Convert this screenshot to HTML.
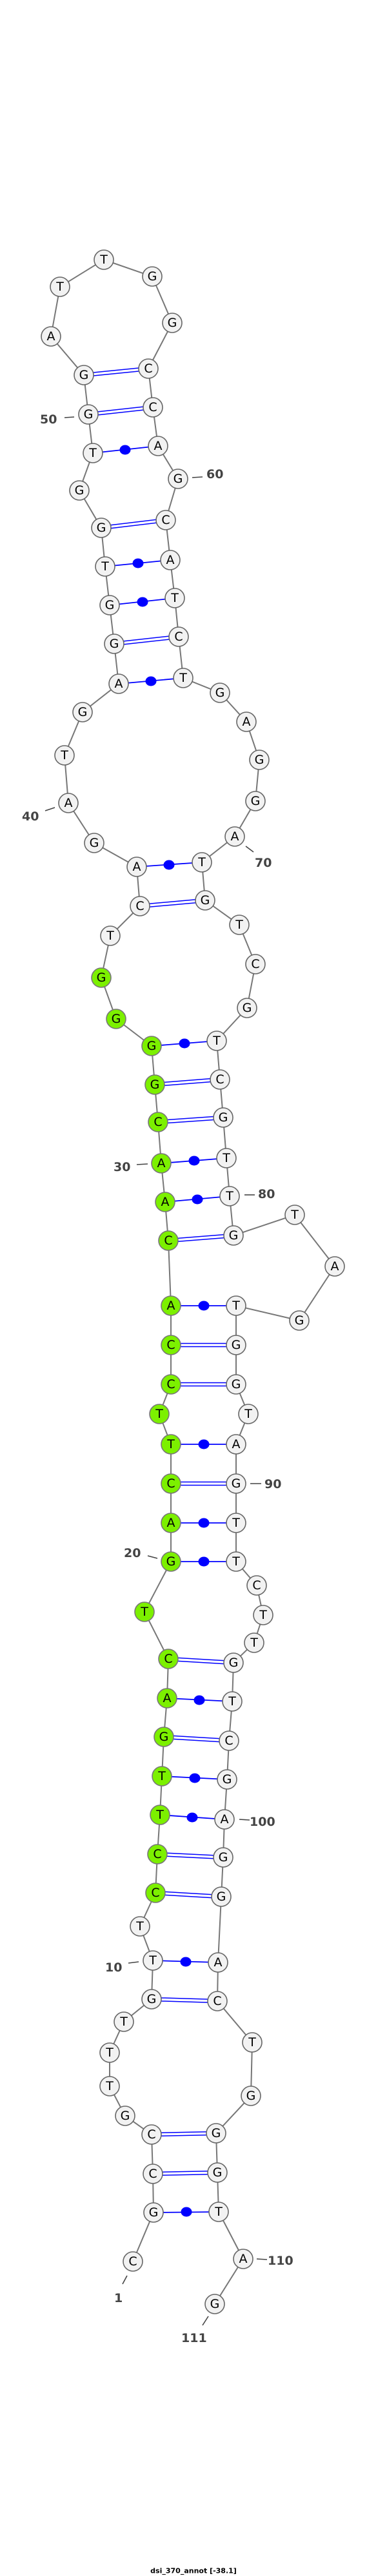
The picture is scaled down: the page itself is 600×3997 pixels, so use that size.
<!DOCTYPE html>
<html><head><meta charset="utf-8"><style>
html,body{margin:0;padding:0;background:#fff;}
svg{display:block;}
.n{fill:#f2f2f2;stroke:#666;stroke-width:1.6;}
.g{fill:#7cf000;stroke:#777;stroke-width:1.6;}
.t{font-family:"DejaVu Sans","Liberation Sans",sans-serif;font-size:19px;fill:#000;text-anchor:middle;dominant-baseline:central;}
.l{font-family:"DejaVu Sans","Liberation Sans",sans-serif;font-size:19px;font-weight:bold;fill:#444;}
.tk{stroke:#444;stroke-width:1.6;}
.d{stroke:#00f;stroke-width:1.5;}
.s{stroke:#00f;stroke-width:1.8;}
</style></head><body>
<svg width="600" height="3997" viewBox="0 0 600 3997" xmlns="http://www.w3.org/2000/svg">
<polyline fill="none" stroke="#777" stroke-width="2" points="206,3509 238,3433 237,3373 235,3312 194,3283 170,3237 170,3185 192,3137 235,3102 237,3042 217,2989 241,2937 244,2877 248,2816 251,2756 254,2695 259,2635 261,2574 224,2501 265,2423 265,2363 265,2302 265,2241 247,2194 265,2148 265,2087 265,2026 261,1925 256,1865 250,1805 245,1741 240,1683 235,1623 180,1581 157,1517 171,1452 217,1406 212,1345 146,1308 106,1246 100,1172 128,1105 184,1061 177,999 170,939 163,879 157,819 123,761 144,703 137,643 130,582 79,522 93,445 161,403 236,429 267,501 230,572 237,632 245,692 276,743 257,807 264,869 271,928 277,988 284,1052 341,1075 382,1120 402,1179 396,1243 364,1298 313,1338 318,1397 371,1435 396,1496 383,1564 336,1615 341,1675 346,1734 351,1797 356,1856 362,1917 457,1885 519,1965 464,2049 366,2026 366,2087 366,2148 385,2194 366,2241 366,2302 366,2363 366,2423 398,2460 408,2506 394,2549 362,2580 360,2640 355,2701 352,2761 348,2823 346,2882 343,2943 338,3045 337,3105 391,3169 389,3252 335,3310 337,3371 339,3432 377,3505 333,3575"/>
<!-- double pairs -->
<g class="d">
<line x1="130" y1="579.5" x2="230" y2="569.5"/><line x1="130" y1="584.5" x2="230" y2="574.5"/>
<line x1="137" y1="640.5" x2="237" y2="629.5"/><line x1="137" y1="645.5" x2="237" y2="634.5"/>
<line x1="157" y1="816.5" x2="257" y2="804.5"/><line x1="157" y1="821.5" x2="257" y2="809.5"/>
<line x1="177" y1="996.5" x2="277" y2="985.5"/><line x1="177" y1="1001.5" x2="277" y2="990.5"/>
<line x1="217" y1="1403.5" x2="318" y2="1394.5"/><line x1="217" y1="1408.5" x2="318" y2="1399.5"/>
<line x1="240" y1="1680.5" x2="341" y2="1672.5"/><line x1="240" y1="1685.5" x2="341" y2="1677.5"/>
<line x1="245" y1="1738.5" x2="346" y2="1731.5"/><line x1="245" y1="1743.5" x2="346" y2="1736.5"/>
<line x1="261" y1="1922.5" x2="362" y2="1914.5"/><line x1="261" y1="1927.5" x2="362" y2="1919.5"/>
<line x1="265" y1="2084.5" x2="366" y2="2084.5"/><line x1="265" y1="2089.5" x2="366" y2="2089.5"/>
<line x1="265" y1="2145.5" x2="366" y2="2145.5"/><line x1="265" y1="2150.5" x2="366" y2="2150.5"/>
<line x1="265" y1="2299.5" x2="366" y2="2299.5"/><line x1="265" y1="2304.5" x2="366" y2="2304.5"/>
<line x1="261" y1="2571.5" x2="362" y2="2577.5"/><line x1="261" y1="2576.5" x2="362" y2="2582.5"/>
<line x1="254" y1="2692.5" x2="355" y2="2698.5"/><line x1="254" y1="2697.5" x2="355" y2="2703.5"/>
<line x1="244" y1="2874.5" x2="346" y2="2879.5"/><line x1="244" y1="2879.5" x2="346" y2="2884.5"/>
<line x1="241" y1="2934.5" x2="343" y2="2940.5"/><line x1="241" y1="2939.5" x2="343" y2="2945.5"/>
<line x1="235" y1="3099.5" x2="337" y2="3102.5"/><line x1="235" y1="3104.5" x2="337" y2="3107.5"/>
<line x1="235" y1="3309.5" x2="335" y2="3307.5"/><line x1="235" y1="3314.5" x2="335" y2="3312.5"/>
<line x1="237" y1="3370.5" x2="337" y2="3368.5"/><line x1="237" y1="3375.5" x2="337" y2="3373.5"/>
</g>
<!-- single pairs with dots -->
<g class="s">
<line x1="144" y1="703" x2="245" y2="692"/><line x1="163" y1="879" x2="264" y2="869"/>
<line x1="170" y1="939" x2="271" y2="928"/><line x1="184" y1="1061" x2="284" y2="1052"/>
<line x1="212" y1="1345" x2="313" y2="1338"/><line x1="235" y1="1623" x2="336" y2="1615"/>
<line x1="250" y1="1805" x2="351" y2="1797"/><line x1="256" y1="1865" x2="356" y2="1856"/>
<line x1="265" y1="2026" x2="366" y2="2026"/><line x1="265" y1="2241" x2="366" y2="2241"/>
<line x1="265" y1="2363" x2="366" y2="2363"/><line x1="265" y1="2423" x2="366" y2="2423"/>
<line x1="259" y1="2635" x2="360" y2="2640"/><line x1="251" y1="2756" x2="352" y2="2761"/>
<line x1="248" y1="2816" x2="348" y2="2823"/><line x1="237" y1="3042" x2="338" y2="3045"/>
<line x1="238" y1="3433" x2="339" y2="3432"/>
</g>
<g fill="#00f">
<ellipse cx="194" cy="698" rx="8.5" ry="7.5"/><ellipse cx="214" cy="874" rx="8.5" ry="7.5"/>
<ellipse cx="221" cy="934" rx="8.5" ry="7.5"/><ellipse cx="234" cy="1057" rx="8.5" ry="7.5"/>
<ellipse cx="262" cy="1342" rx="8.5" ry="7.5"/><ellipse cx="286" cy="1619" rx="8.5" ry="7.5"/>
<ellipse cx="301" cy="1801" rx="8.5" ry="7.5"/><ellipse cx="306" cy="1861" rx="8.5" ry="7.5"/>
<ellipse cx="316" cy="2026" rx="8.5" ry="7.5"/><ellipse cx="316" cy="2241" rx="8.5" ry="7.5"/>
<ellipse cx="316" cy="2363" rx="8.5" ry="7.5"/><ellipse cx="316" cy="2423" rx="8.5" ry="7.5"/>
<ellipse cx="309" cy="2638" rx="8.5" ry="7.5"/><ellipse cx="302" cy="2759" rx="8.5" ry="7.5"/>
<ellipse cx="298" cy="2820" rx="8.5" ry="7.5"/><ellipse cx="288" cy="3044" rx="8.5" ry="7.5"/>
<ellipse cx="289" cy="3432" rx="8.5" ry="7.5"/>
</g>
<!-- white nodes -->
<g class="n">
<circle cx="161" cy="403" r="15"/><circle cx="93" cy="445" r="15"/><circle cx="236" cy="429" r="15"/>
<circle cx="79" cy="522" r="15"/><circle cx="267" cy="501" r="15"/><circle cx="130" cy="582" r="15"/>
<circle cx="230" cy="572" r="15"/><circle cx="137" cy="643" r="15"/><circle cx="237" cy="632" r="15"/>
<circle cx="144" cy="703" r="15"/><circle cx="245" cy="692" r="15"/><circle cx="123" cy="761" r="15"/>
<circle cx="276" cy="743" r="15"/><circle cx="157" cy="819" r="15"/><circle cx="257" cy="807" r="15"/>
<circle cx="163" cy="879" r="15"/><circle cx="264" cy="869" r="15"/><circle cx="170" cy="939" r="15"/>
<circle cx="271" cy="928" r="15"/><circle cx="177" cy="999" r="15"/><circle cx="277" cy="988" r="15"/>
<circle cx="184" cy="1061" r="15"/><circle cx="284" cy="1052" r="15"/><circle cx="341" cy="1075" r="15"/>
<circle cx="128" cy="1105" r="15"/><circle cx="382" cy="1120" r="15"/><circle cx="100" cy="1172" r="15"/>
<circle cx="402" cy="1179" r="15"/><circle cx="396" cy="1243" r="15"/><circle cx="106" cy="1246" r="15"/>
<circle cx="146" cy="1308" r="15"/><circle cx="364" cy="1298" r="15"/><circle cx="212" cy="1345" r="15"/>
<circle cx="313" cy="1338" r="15"/><circle cx="217" cy="1406" r="15"/><circle cx="318" cy="1397" r="15"/>
<circle cx="171" cy="1452" r="15"/><circle cx="371" cy="1435" r="15"/><circle cx="396" cy="1496" r="15"/>
<circle cx="383" cy="1564" r="15"/><circle cx="336" cy="1615" r="15"/><circle cx="341" cy="1675" r="15"/>
<circle cx="346" cy="1734" r="15"/><circle cx="351" cy="1797" r="15"/><circle cx="356" cy="1856" r="15"/>
<circle cx="362" cy="1917" r="15"/><circle cx="457" cy="1885" r="15"/><circle cx="519" cy="1965" r="15"/>
<circle cx="464" cy="2049" r="15"/><circle cx="366" cy="2026" r="15"/><circle cx="366" cy="2087" r="15"/>
<circle cx="366" cy="2148" r="15"/><circle cx="385" cy="2194" r="15"/><circle cx="366" cy="2241" r="15"/>
<circle cx="366" cy="2302" r="15"/><circle cx="366" cy="2363" r="15"/><circle cx="366" cy="2423" r="15"/>
<circle cx="398" cy="2460" r="15"/><circle cx="408" cy="2506" r="15"/><circle cx="394" cy="2549" r="15"/>
<circle cx="362" cy="2580" r="15"/><circle cx="360" cy="2640" r="15"/><circle cx="355" cy="2701" r="15"/>
<circle cx="352" cy="2761" r="15"/><circle cx="348" cy="2823" r="15"/><circle cx="346" cy="2882" r="15"/>
<circle cx="343" cy="2943" r="15"/><circle cx="217" cy="2989" r="15"/><circle cx="237" cy="3042" r="15"/>
<circle cx="338" cy="3045" r="15"/><circle cx="235" cy="3102" r="15"/><circle cx="337" cy="3105" r="15"/>
<circle cx="192" cy="3137" r="15"/><circle cx="391" cy="3169" r="15"/><circle cx="170" cy="3185" r="15"/>
<circle cx="170" cy="3237" r="15"/><circle cx="389" cy="3252" r="15"/><circle cx="194" cy="3283" r="15"/>
<circle cx="235" cy="3312" r="15"/><circle cx="335" cy="3310" r="15"/><circle cx="237" cy="3373" r="15"/>
<circle cx="337" cy="3371" r="15"/><circle cx="238" cy="3433" r="15"/><circle cx="339" cy="3432" r="15"/>
<circle cx="206" cy="3509" r="15"/><circle cx="377" cy="3505" r="15"/><circle cx="333" cy="3575" r="15"/>
</g>
<!-- green nodes -->
<g class="g">
<circle cx="157" cy="1517" r="15"/><circle cx="180" cy="1581" r="15"/><circle cx="235" cy="1623" r="15"/>
<circle cx="240" cy="1683" r="15"/><circle cx="245" cy="1741" r="15"/><circle cx="250" cy="1805" r="15"/>
<circle cx="256" cy="1865" r="15"/><circle cx="261" cy="1925" r="15"/><circle cx="265" cy="2026" r="15"/>
<circle cx="265" cy="2087" r="15"/><circle cx="265" cy="2148" r="15"/><circle cx="247" cy="2194" r="15"/>
<circle cx="265" cy="2241" r="15"/><circle cx="265" cy="2302" r="15"/><circle cx="265" cy="2363" r="15"/>
<circle cx="265" cy="2423" r="15"/><circle cx="224" cy="2501" r="15"/><circle cx="261" cy="2574" r="15"/>
<circle cx="259" cy="2635" r="15"/><circle cx="254" cy="2695" r="15"/><circle cx="251" cy="2756" r="15"/>
<circle cx="248" cy="2816" r="15"/><circle cx="244" cy="2877" r="15"/><circle cx="241" cy="2937" r="15"/>
</g>
<!-- letters -->
<g class="t">
<text x="161" y="403">T</text><text x="93" y="445">T</text><text x="236" y="429">G</text>
<text x="79" y="522">A</text><text x="267" y="501">G</text><text x="130" y="582">G</text>
<text x="230" y="572">C</text><text x="137" y="643">G</text><text x="237" y="632">C</text>
<text x="144" y="703">T</text><text x="245" y="692">A</text><text x="123" y="761">G</text>
<text x="276" y="743">G</text><text x="157" y="819">G</text><text x="257" y="807">C</text>
<text x="163" y="879">T</text><text x="264" y="869">A</text><text x="170" y="939">G</text>
<text x="271" y="928">T</text><text x="177" y="999">G</text><text x="277" y="988">C</text>
<text x="184" y="1061">A</text><text x="284" y="1052">T</text><text x="341" y="1075">G</text>
<text x="128" y="1105">G</text><text x="382" y="1120">A</text><text x="100" y="1172">T</text>
<text x="402" y="1179">G</text><text x="396" y="1243">G</text><text x="106" y="1246">A</text>
<text x="146" y="1308">G</text><text x="364" y="1298">A</text><text x="212" y="1345">A</text>
<text x="313" y="1338">T</text><text x="217" y="1406">C</text><text x="318" y="1397">G</text>
<text x="171" y="1452">T</text><text x="371" y="1435">T</text><text x="396" y="1496">C</text>
<text x="383" y="1564">G</text><text x="336" y="1615">T</text><text x="341" y="1675">C</text>
<text x="346" y="1734">G</text><text x="351" y="1797">T</text><text x="356" y="1856">T</text>
<text x="362" y="1917">G</text><text x="457" y="1885">T</text><text x="519" y="1965">A</text>
<text x="464" y="2049">G</text><text x="366" y="2026">T</text><text x="366" y="2087">G</text>
<text x="366" y="2148">G</text><text x="385" y="2194">T</text><text x="366" y="2241">A</text>
<text x="366" y="2302">G</text><text x="366" y="2363">T</text><text x="366" y="2423">T</text>
<text x="398" y="2460">C</text><text x="408" y="2506">T</text><text x="394" y="2549">T</text>
<text x="362" y="2580">G</text><text x="360" y="2640">T</text><text x="355" y="2701">C</text>
<text x="352" y="2761">G</text><text x="348" y="2823">A</text><text x="346" y="2882">G</text>
<text x="343" y="2943">G</text><text x="217" y="2989">T</text><text x="237" y="3042">T</text>
<text x="338" y="3045">A</text><text x="235" y="3102">G</text><text x="337" y="3105">C</text>
<text x="192" y="3137">T</text><text x="391" y="3169">T</text><text x="170" y="3185">T</text>
<text x="170" y="3237">T</text><text x="389" y="3252">G</text><text x="194" y="3283">G</text>
<text x="235" y="3312">C</text><text x="335" y="3310">G</text><text x="237" y="3373">C</text>
<text x="337" y="3371">G</text><text x="238" y="3433">G</text><text x="339" y="3432">T</text>
<text x="206" y="3509">C</text><text x="377" y="3505">A</text><text x="333" y="3575">G</text>
<text x="157" y="1517">G</text><text x="180" y="1581">G</text><text x="235" y="1623">G</text>
<text x="240" y="1683">G</text><text x="245" y="1741">C</text><text x="250" y="1805">A</text>
<text x="256" y="1865">A</text><text x="261" y="1925">C</text><text x="265" y="2026">A</text>
<text x="265" y="2087">C</text><text x="265" y="2148">C</text><text x="247" y="2194">T</text>
<text x="265" y="2241">T</text><text x="265" y="2302">C</text><text x="265" y="2363">A</text>
<text x="265" y="2423">G</text><text x="224" y="2501">T</text><text x="261" y="2574">C</text>
<text x="259" y="2635">A</text><text x="254" y="2695">G</text><text x="251" y="2756">T</text>
<text x="248" y="2816">T</text><text x="244" y="2877">C</text><text x="241" y="2937">C</text>
</g>
<!-- number ticks -->
<g class="tk">
<line x1="100" y1="648" x2="115" y2="647"/>
<line x1="298" y1="741" x2="314" y2="740"/>
<line x1="70" y1="1258" x2="85" y2="1253"/>
<line x1="381" y1="1313" x2="393" y2="1322"/>
<line x1="212" y1="1807" x2="229" y2="1806"/>
<line x1="379" y1="1854" x2="395" y2="1854"/>
<line x1="388" y1="2302" x2="405" y2="2302"/>
<line x1="229" y1="2414" x2="244" y2="2418"/>
<line x1="371" y1="2823" x2="387" y2="2824"/>
<line x1="199" y1="3046" x2="215" y2="3044"/>
<line x1="197" y1="3531" x2="190" y2="3544"/>
<line x1="398" y1="3505" x2="414" y2="3506"/>
<line x1="323" y1="3594" x2="314" y2="3608"/>
</g>
<g class="l">
<text x="62" y="657">50</text>
<text x="320" y="742">60</text>
<text x="34" y="1273">40</text>
<text x="395" y="1345">70</text>
<text x="176" y="1817">30</text>
<text x="400" y="1859">80</text>
<text x="410" y="2309">90</text>
<text x="192" y="2416">20</text>
<text x="387" y="2833">100</text>
<text x="163" y="3059">10</text>
<text x="177" y="3572">1</text>
<text x="415" y="3514">110</text>
<text x="281" y="3634">111</text>
</g>
<text x="300" y="3989" font-family="'DejaVu Sans','Liberation Sans',sans-serif" font-size="11" font-weight="bold" text-anchor="middle" dominant-baseline="central" fill="#000">dsi_370_annot [-38.1]</text>
</svg>
</body></html>
